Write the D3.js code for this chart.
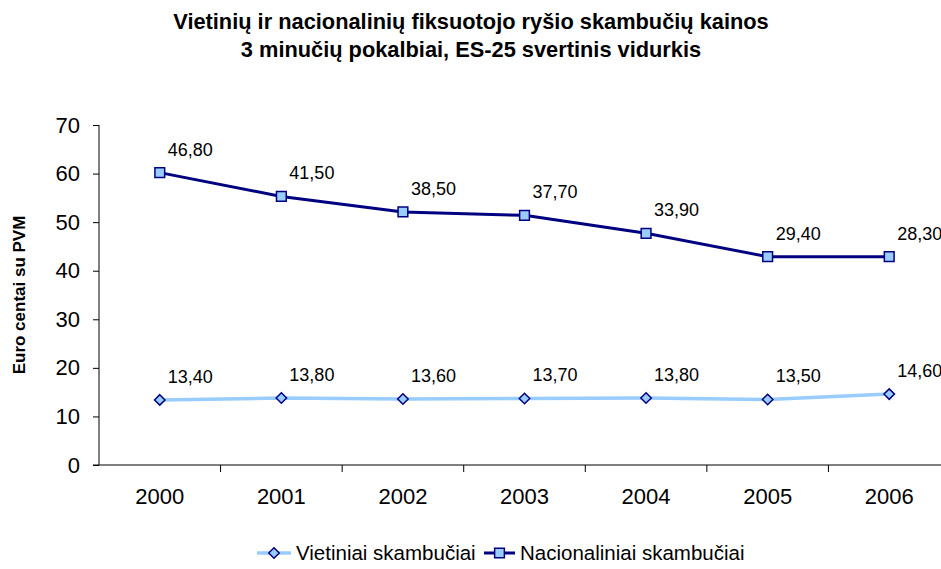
<!DOCTYPE html>
<html>
<head>
<meta charset="utf-8">
<script src="https://cdn.jsdelivr.net/npm/d3@7"></script>
<style>
  body { margin: 0; background: #fff; }
  svg { display: block; font-family: Arial, "Liberation Sans", sans-serif; }
</style>
</head>
<body>
<div id="chart"></div>
<script>
// data
var years = ["2000", "2001", "2002", "2003", "2004", "2005", "2006"];
var localValues = [13.4, 13.8, 13.6, 13.7, 13.8, 13.5, 14.6];
var localLabels = ["13,40", "13,80", "13,60", "13,70", "13,80", "13,50", "14,60"];
// the national points sit higher than their printed labels in the original
var nationalValues = [60.2, 55.3, 52.1, 51.4, 47.7, 42.9, 42.9];
var nationalLabels = ["46,80", "41,50", "38,50", "37,70", "33,90", "29,40", "28,30"];
var yTicks = [0, 10, 20, 30, 40, 50, 60, 70];
var seriesNames = ["Vietiniai skambučiai", "Nacionaliniai skambučiai"];

(function() {
    var width = 941, height = 569;
    var left = 99, right = 950, top = 125, bottom = 465;
    var navy = "#000080", light = "#99ccff";

    var svg = d3.select("#chart")
    .append("svg")
    .attr("width", width)
    .attr("height", height);

    // title
    var title = svg.append("text")
    .attr("text-anchor", "middle")
    .attr("font-weight", "bold")
    .attr("font-size", "21.8px");
    title.append("tspan").attr("x", 471).attr("y", 29)
    .text("Vietinių ir nacionalinių fiksuotojo ryšio skambučių kainos");
    title.append("tspan").attr("x", 471).attr("y", 57)
    .text("3 minučių pokalbiai, ES-25 svertinis vidurkis");

    const xScale = d3.scaleBand()
    .domain(years)
    .range([left, right]);

    const yScale = d3.scaleLinear()
    .domain([0, 70])
    .range([bottom, top]);

    const cx = d => xScale(d) + xScale.bandwidth() / 2;

    // axes
    var yAxis = svg.append("g")
    .attr("transform", `translate(${left}, 0)`)
    .call(d3.axisLeft(yScale).tickValues(yTicks).tickSize(6).tickPadding(13));

    var xAxis = svg.append("g")
    .attr("transform", `translate(0, ${bottom})`)
    .call(d3.axisBottom(xScale).tickSize(0).tickPadding(23));

    // category separators
    xAxis.selectAll(".sep")
    .data(years)
    .enter()
    .append("line")
    .attr("x1", d => xScale(d) + xScale.bandwidth())
    .attr("x2", d => xScale(d) + xScale.bandwidth())
    .attr("y1", 0)
    .attr("y2", 7)
    .attr("stroke", "#000");

    xAxis.select(".domain").attr("d", `M${left - 6},0H${right}`);
    yAxis.select(".domain").attr("d", `M0,${top}V${bottom}`);

    [xAxis, yAxis].forEach(function(a) {
        a.selectAll(".domain, line").attr("stroke", "#000");
        a.selectAll("text")
        .attr("fill", "#000")
        .attr("font-size", "22px")
        .attr("font-family", "Arial, 'Liberation Sans', sans-serif");
    });

    svg.append("text")
    .attr("transform", "translate(25, 295) rotate(-90)")
    .attr("text-anchor", "middle")
    .attr("font-weight", "bold")
    .attr("font-size", "17px")
    .text("Euro centai su PVM");

    const line = d3.line()
    .x((d, i) => cx(years[i]))
    .y(d => yScale(d));

    // local calls
    svg.append("path")
    .attr("d", line(localValues))
    .attr("fill", "none")
    .attr("stroke", light)
    .attr("stroke-width", 3.5);

    // national calls
    svg.append("path")
    .attr("d", line(nationalValues))
    .attr("fill", "none")
    .attr("stroke", navy)
    .attr("stroke-width", 3);

    const diamond = d3.symbol().type(d3.symbolDiamond2).size(70);
    const square = d3.symbol().type(d3.symbolSquare).size(95);

    svg.selectAll(".loc")
    .data(localValues)
    .enter()
    .append("path")
    .attr("d", diamond)
    .attr("transform", (d, i) => `translate(${cx(years[i])}, ${yScale(d)})`)
    .attr("fill", light)
    .attr("stroke", navy)
    .attr("stroke-width", 1.5);

    svg.selectAll(".nat")
    .data(nationalValues)
    .enter()
    .append("path")
    .attr("d", square)
    .attr("transform", (d, i) => `translate(${cx(years[i])}, ${yScale(d)})`)
    .attr("fill", light)
    .attr("stroke", navy)
    .attr("stroke-width", 1.5);

    // value labels
    function labels(values, texts) {
        svg.append("g")
        .selectAll("text")
        .data(values)
        .enter()
        .append("text")
        .attr("x", (d, i) => cx(years[i]) + 8)
        .attr("y", d => yScale(d) - 17)
        .attr("font-size", "18px")
        .attr("fill", "#000")
        .text((d, i) => texts[i]);
    }
    labels(localValues, localLabels);
    labels(nationalValues, nationalLabels);

    // legend
    var legend = svg.append("g").attr("transform", "translate(0, 553)");

    legend.append("line")
    .attr("x1", 257).attr("x2", 291)
    .attr("stroke", light).attr("stroke-width", 3.5);
    legend.append("path")
    .attr("d", diamond)
    .attr("transform", "translate(274, 0)")
    .attr("fill", light).attr("stroke", navy).attr("stroke-width", 1.5);
    legend.append("text")
    .attr("x", 296).attr("dy", "0.35em")
    .attr("font-size", "20.5px")
    .text(seriesNames[0]);

    legend.append("line")
    .attr("x1", 484).attr("x2", 515)
    .attr("stroke", navy).attr("stroke-width", 3);
    legend.append("path")
    .attr("d", square)
    .attr("transform", "translate(499.5, 0)")
    .attr("fill", light).attr("stroke", navy).attr("stroke-width", 1.5);
    legend.append("text")
    .attr("x", 520).attr("dy", "0.35em")
    .attr("font-size", "20.5px")
    .text(seriesNames[1]);
})();
</script>
</body>
</html>
